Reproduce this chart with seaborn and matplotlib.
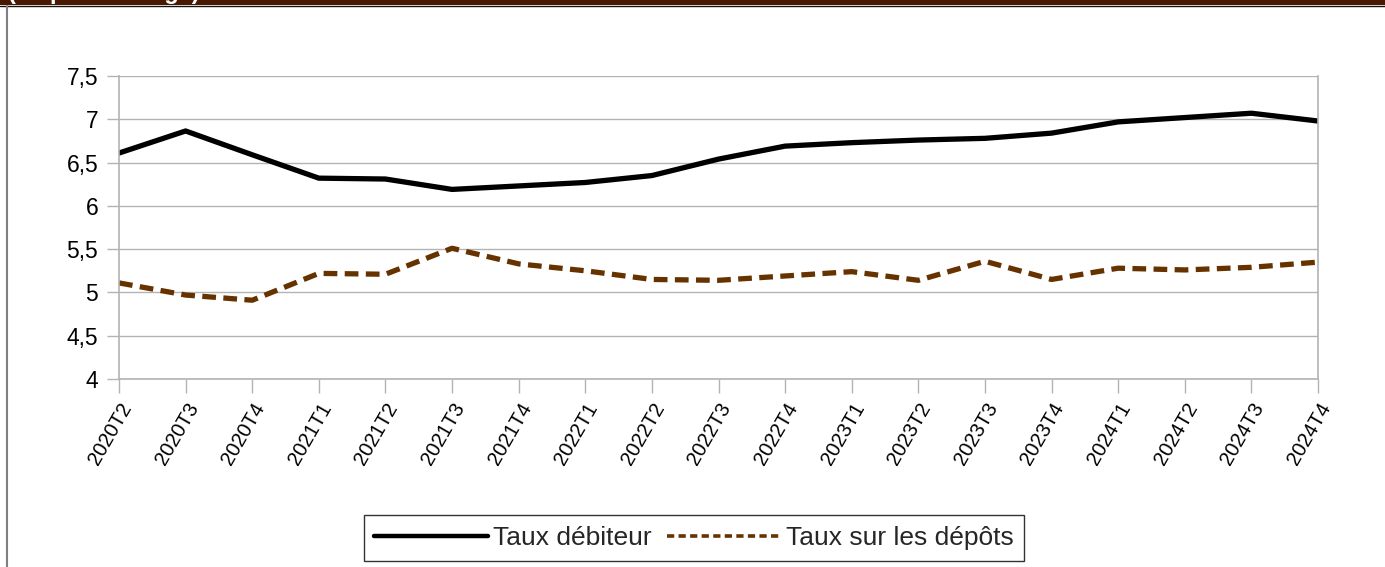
import matplotlib
matplotlib.use("Agg")
import matplotlib.pyplot as plt
import seaborn as sns
import pandas as pd
from matplotlib.patches import Rectangle
from matplotlib.lines import Line2D

quarters = ["2020T2", "2020T3", "2020T4", "2021T1", "2021T2", "2021T3", "2021T4",
            "2022T1", "2022T2", "2022T3", "2022T4", "2023T1", "2023T2", "2023T3",
            "2023T4", "2024T1", "2024T2", "2024T3", "2024T4"]
taux_debiteur = [6.61, 6.865, 6.59, 6.32, 6.31, 6.19, 6.23, 6.27, 6.35, 6.54,
                 6.69, 6.73, 6.76, 6.78, 6.84, 6.97, 7.02, 7.07, 6.98]
taux_depots = [5.11, 4.97, 4.91, 5.22, 5.21, 5.51, 5.33, 5.25, 5.15, 5.14,
               5.19, 5.24, 5.14, 5.36, 5.15, 5.28, 5.26, 5.29, 5.35]
y_ticks = [4, 4.5, 5, 5.5, 6, 6.5, 7, 7.5]
y_labels = ["4", "4,5", "5", "5,5", "6", "6,5", "7", "7,5"]
series_names = ["Taux débiteur", "Taux sur les dépôts"]

sns.set_theme(style="white")
plt.rcParams['font.family'] = ['Liberation Sans', 'DejaVu Sans']

df = pd.DataFrame({
    "x": list(range(len(quarters))) * 2,
    "val": taux_debiteur + taux_depots,
    "serie": [series_names[0]] * len(quarters) + [series_names[1]] * len(quarters),
})

fig = plt.figure(figsize=(13.85, 5.67), dpi=100)
ax = fig.add_axes([119 / 1385, 1 - 379 / 567, (1318 - 119) / 1385, (379 - 76) / 567])

colors = {series_names[0]: "#000000", series_names[1]: "#663300"}
sns.lineplot(data=df, x="x", y="val", hue="serie", style="serie",
             palette=colors, dashes={series_names[0]: "", series_names[1]: (2.6, 1.4)},
             linewidth=3.8, ax=ax, legend=False)

ax.set_xlim(0, len(quarters) - 1)
ax.set_ylim(4, 7.5)
ax.set_yticks(y_ticks)
ax.set_yticklabels(y_labels, fontsize=16.5)
ax.set_xticks(range(len(quarters)))
ax.set_xticklabels(quarters, rotation=60, ha="right", va="top", rotation_mode="anchor", fontsize=14.5)
ax.set_xlabel("")
ax.set_ylabel("")
ax.grid(axis="y", color="#b3b3b3", linewidth=1)
ax.grid(axis="x", visible=False)
for side in ["left", "bottom", "right"]:
    ax.spines[side].set_color("#b3b3b3")
    ax.spines[side].set_linewidth(1.2)
ax.spines["top"].set_visible(False)
ax.tick_params(axis="x", which="major", direction="out", length=10, width=1, color="#b3b3b3", pad=5, labelcolor="black")
ax.tick_params(axis="y", which="major", direction="out", length=9, width=1, color="#b3b3b3", pad=6, labelcolor="black")
ax.tick_params(axis="x", bottom=True)
ax.tick_params(axis="y", left=True)

handles = [Line2D([0], [0], color="#000000", lw=3.2),
           Line2D([0], [0], color="#663300", lw=2.6, ls=(0, (2.0, 1.2)))]
leg = fig.legend(handles, series_names, loc="center", bbox_to_anchor=(694 / 1385, 1 - 538 / 567),
                 ncol=2, fontsize=19, frameon=True, fancybox=False, handlelength=4.3,
                 handletextpad=0.2, columnspacing=0.6, borderpad=0.4, borderaxespad=0)
leg.get_frame().set_edgecolor("#000000")
leg.get_frame().set_linewidth(1)

# header band and frame
fig.patches.append(Rectangle((0, 1 - 5 / 567), 1, 5 / 567, transform=fig.transFigure,
                             facecolor="#4a1800", edgecolor="none", zorder=5))
fig.lines.append(Line2D([0, 1], [1 - 5.5 / 567, 1 - 5.5 / 567], transform=fig.transFigure,
                        color="#111111", lw=1))
fig.lines.append(Line2D([7 / 1385, 7 / 1385], [0, 1 - 6 / 567], transform=fig.transFigure,
                        color="#808080", lw=1.5))
fig.text(8 / 1385, 1 + 1 / 567, "(en pourcentage)", color="white", fontsize=17,
         fontweight="bold", ha="left", va="baseline", zorder=6)

fig.savefig("out.png", dpi=100, facecolor="white")
